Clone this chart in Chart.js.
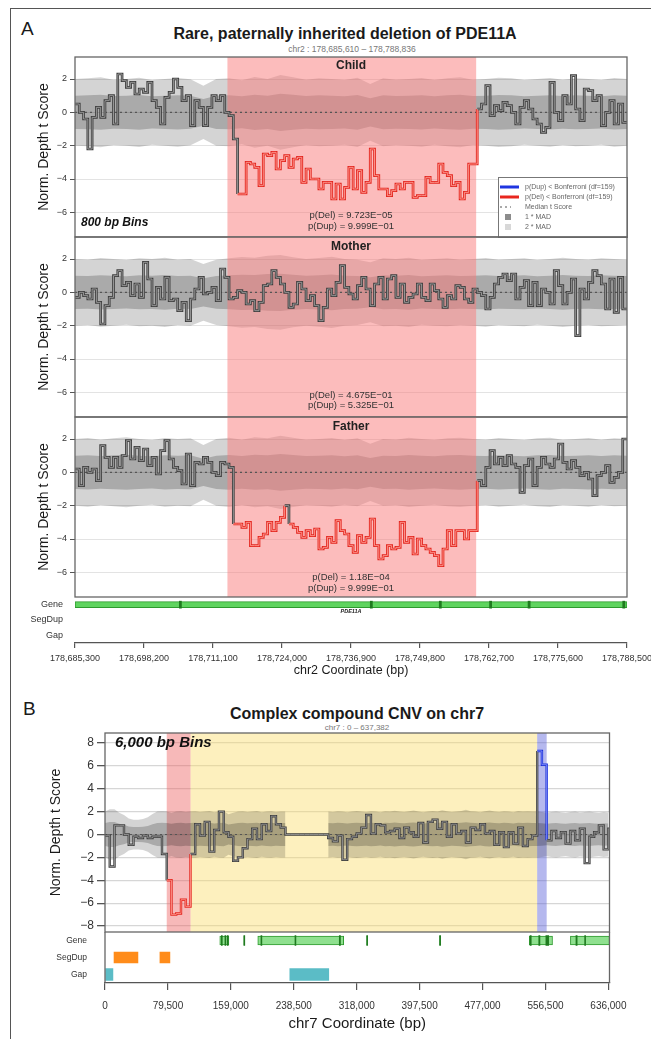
<!DOCTYPE html>
<html>
<head>
<meta charset="utf-8">
<script src="https://cdn.jsdelivr.net/npm/chart.js@4.4.1/dist/chart.umd.min.js"></script>
<style>
  html, body { margin: 0; padding: 0; background: #fff; }
  body { position: relative; width: 651px; height: 1039px; overflow: hidden; font-family: "Liberation Sans", Arial, sans-serif; }
  canvas { position: absolute; left: 0; }
  .frame { position: absolute; left: 10px; top: 8px; right: -5px; bottom: -5px; border-top: 1.5px solid #555; border-left: 1.5px solid #555; }
  .txt { position: absolute; white-space: nowrap; text-align: center; color: #1a1a1a; }
</style>
</head>
<body>
<div class="frame"></div>
<div class="txt" style="left:21px;top:18px;font-size:19px;text-align:left;">A</div>
<div class="txt" style="left:0;width:690px;top:25px;font-size:16px;font-weight:bold;">Rare, paternally inherited deletion of PDE11A</div>
<div class="txt" style="left:0;width:704px;top:44px;font-size:8.5px;color:#777;">chr2 : 178,685,610 – 178,788,836</div>
<div class="txt" style="left:23px;top:698px;font-size:19px;text-align:left;">B</div>
<div class="txt" style="left:0;width:714px;top:705px;font-size:16px;font-weight:bold;">Complex compound CNV on chr7</div>
<div class="txt" style="left:0;width:714px;top:723px;font-size:8px;color:#777;">chr7 : 0 – 637,382</div>

<canvas id="child" width="651" height="208" style="top:43px"></canvas>
<canvas id="mother" width="651" height="208" style="top:223px"></canvas>
<canvas id="father" width="651" height="208" style="top:403px"></canvas>
<canvas id="trackA" width="680" height="97" style="top:583px"></canvas>
<canvas id="mainB" width="651" height="227" style="top:719px"></canvas>
<canvas id="trackB" width="651" height="117" style="top:918px"></canvas>

<script>
// ---------- panel A : chr2, 800 bp bins ----------
const startA = 178685300;
const endA = 178788500;
const binA = 800;
const madStepA = 2400;
const xTicksA = [178685300, 178698200, 178711100, 178724000, 178736900, 178749800, 178762700, 178775600, 178788500];
const yTicksA = [-6, -4, -2, 0, 2];
const delA = [178713800, 178760300];

const childT = [
  0.5, 0.0, -0.4, -2.2, -0.3, 0.3, -0.3, 0.7, 1.0, -0.7, 2.3, 1.9, 1.5, 1.8, 1.1, 1.4, 1.2, 1.8, 0.7, 0.3,
  -0.7, 0.9, 1.2, 2.0, 1.5, 0.7, 1.0, -0.8, 0.7, 0.3, -0.8, 0.3, 1.0, 0.7, 1.0, 0.0,
  -0.2, -1.6, -4.9, -4.9, -3.0, -3.1, -3.3, -4.4, -2.5, -2.6, -2.4, -3.4, -2.9, -2.6, -3.3, -2.8, -2.7, -4.2,
  -3.4, -4.0, -4.0, -4.6, -4.2, -4.2, -5.2, -4.3, -5.2, -4.5, -3.3, -4.6, -3.5, -4.8, -4.2, -2.2, -3.8, -4.6,
  -4.6, -5.0, -4.7, -4.3, -4.6, -4.2, -4.2, -5.1, -5.0, -5.0, -3.9, -4.2, -4.2, -3.1, -3.6, -3.8, -4.4, -4.2,
  -5.2, -4.8, -3.1, -3.1,
  0.2, 0.5, 1.6, -0.2, 0.4, 0.1, 0.6, 0.4, 0.0, -0.7, 0.3, 0.7, 0.2, -0.4, -0.7, -1.2, -0.9, 1.8, 0.0, -0.5,
  1.0, 0.5, 2.2, 0.2, -0.5, 1.4, 1.3, 0.7, 1.0, -0.8, 0.0, 0.7, -0.7, 0.5, -0.6
];
const motherT = [
  -0.3, 0.0, -0.2, -0.4, 0.2, -0.6, -1.9, -0.8, -0.3, 1.0, 1.3, 0.4, 0.6, -0.2, 0.5, -0.3, 1.8, 0.8, -0.8, 0.3,
  -0.4, 0.9, -0.5, -0.4, -1.1, -0.6, -1.7, -0.4, 0.2, 0.9, -0.1, 0.0, 0.3, -0.5, 1.4, 0.9,
  -0.4, -0.3, 0.1, 0.0, -0.7, -0.5, -1.1, -0.6, 0.4, 0.5, 1.3, 0.9, 0.5, 0.0, -0.9, -0.7, 0.6, 0.2, -0.5, -0.2,
  -0.8, -1.7, -0.9, 0.2, -0.2, 0.6, 1.6, 0.3, -0.1, -0.4, 0.4, 0.9, 0.2, -0.8, 0.5, 0.9, -0.4, 0.8, 1.0, -0.3,
  0.5, -0.6, -0.3, -0.1, 0.5, -0.3, -0.5, 0.5, 0.1, -0.4, -0.9, -0.2, -0.4, 0.4, 0.3, -0.4, -0.6, 0.2,
  0.0, -0.2, -1.0, -0.3, 0.5, 0.9, 1.1, 0.7, 1.1, -0.4, 0.3, 0.7, -0.8, 0.6, -0.8, 0.2, 0.0, -0.7, 1.3, 0.4,
  -0.7, 0.0, 0.8, -2.6, 0.2, -0.4, 0.6, 1.3, 1.0, 0.5, -1.0, 0.8, -1.2, 0.9, -1.0
];
const fatherT = [
  0.2, -0.8, 0.3, 0.0, 0.2, -0.5, 1.6, 0.9, 0.3, 0.9, 0.3, 1.0, 1.9, 0.8, 1.5, 0.7, 1.4, 0.4, 0.9, -0.1,
  1.3, 1.9, 0.8, 0.3, 0.1, -0.7, 1.1, -0.8, 0.6, 0.5, 0.9, 0.6, 0.0, -0.2, 0.6, 0.5,
  0.3, -3.1, -3.1, -3.3, -3.0, -4.4, -4.4, -3.9, -3.7, -3.0, -3.5, -3.0, -2.7, -2.0, -3.1, -3.3, -3.6, -3.9,
  -3.5, -3.8, -3.4, -4.6, -4.5, -3.9, -4.2, -2.9, -3.5, -3.7, -4.4, -4.8, -3.8, -4.2, -3.9, -2.8, -4.4, -5.2,
  -5.0, -4.4, -4.6, -4.5, -3.0, -4.2, -3.9, -4.9, -4.0, -4.4, -4.6, -4.8, -5.0, -5.6, -4.6, -3.5, -4.4, -3.5,
  -3.5, -4.0, -3.5, -3.5,
  -0.5, -0.8, 0.3, 1.3, 0.5, 0.9, 0.4, 1.0, 0.5, 0.3, -1.2, 0.4, 0.8, -0.8, 0.3, 0.9, 0.5, 0.3, 0.8, 1.7,
  0.6, 0.2, 0.7, 0.3, -0.2, 0.0, -0.4, -1.4, -0.2, 0.0, 0.4, -0.6, -0.3, 0.0, 2.0
];
// median absolute deviation of the reference, every 2,400 bp
const childMad = [1.0, 1.02, 1.05, 0.98, 1.0, 1.04, 0.97, 1.0, 1.03, 0.99, 0.8, 1.0, 1.02, 0.96, 1.06, 1.0, 1.12, 1.05, 0.98, 1.02, 1.0, 0.97, 1.04, 0.85, 1.02, 0.98, 1.0, 1.03, 0.97, 1.02, 1.05, 0.98, 1.0, 1.04, 1.02, 0.97, 1.0, 1.03, 0.98, 1.02, 1.0, 0.97, 1.03, 1.0];
const motherMad = [1.0, 0.98, 1.03, 1.0, 0.97, 1.02, 1.0, 1.04, 0.98, 1.0, 0.85, 0.98, 1.02, 1.06, 1.04, 1.1, 1.12, 1.05, 1.0, 1.03, 1.07, 1.0, 0.98, 0.9, 1.02, 1.0, 1.04, 0.97, 1.0, 1.02, 0.98, 1.0, 1.03, 0.98, 1.0, 1.02, 0.97, 1.0, 1.04, 1.0, 0.98, 1.02, 1.0, 0.98];
const fatherMad = [1.0, 1.03, 0.98, 1.02, 1.05, 1.0, 0.97, 1.03, 1.0, 1.02, 0.82, 1.0, 1.04, 0.98, 1.05, 1.02, 1.1, 1.04, 0.98, 1.0, 1.03, 0.97, 1.02, 0.86, 1.0, 0.98, 1.04, 1.0, 0.97, 1.02, 1.04, 1.0, 0.98, 1.03, 1.0, 0.97, 1.02, 1.04, 0.98, 1.0, 1.03, 0.98, 1.02, 1.0];
const childP = ['p(Del) = 9.723E\u221205', 'p(Dup) = 9.999E\u221201'];
const motherP = ['p(Del) = 4.675E\u221201', 'p(Dup) = 5.325E\u221201'];
const fatherP = ['p(Del) = 1.18E\u221204', 'p(Dup) = 9.999E\u221201'];
const geneA = [[178685300, 178788500]];
const geneNamesA = ['PDE11A'];
const exonA = [[178704800, 178705200], [178740500, 178740900], [178753400, 178753800], [178762800, 178763200], [178770000, 178770400], [178787700, 178788100]];
const keyLabels = ['p(Dup) < Bonferroni (df=159)', 'p(Del) < Bonferroni (df=159)', 'Median t Score', '1 * MAD', '2 * MAD'];

// ---------- panel B : chr7, 6,000 bp bins ----------
const startB = 0;
const endB = 637382;
const binB = 6000;
const xTicksB = [0, 79500, 159000, 238500, 318000, 397500, 477000, 556500, 636000];
const yTicksB = [-8, -6, -4, -2, 0, 2, 4, 6, 8];
const delB = [78000, 108000];
const cnvB = [108000, 546000];
const dupB = [546000, 558000];
const probandB = [
  -0.1, -2.8, 0.8, 0.8, 0.0, -0.9, -0.2, -0.3, -0.1, -0.3, -0.2, -0.2, -1.7,
  -4.0, -7.0, -6.9, -5.7, -6.3,
  -1.7, 0.9, -0.1, 1.1, -1.5, 0.4, 2.0, 0.2, -0.2, -2.3, -2.0, -1.2, -0.4, 0.5, -0.4, 0.9, 0.3, 1.6, 0.9, 0.6, 0.0,
  0.0, 0.0, 0.0, 0.0, 0.0, 0.0, 0.0, 0.0,
  -0.3, -0.6, -0.1, -2.2, -0.4, -0.2, 0.1, 0.6, 1.7, 0.1, 0.9, 0.8, 0.2, 0.3, 0.5, -0.3, 0.6, 0.2, -0.2, 1.0,
  -0.7, 1.1, 1.3, 0.5, 1.1, -0.2, 0.9, 0.1, 0.3, -0.7, 0.6, 0.4, 0.9, 0.1, 0.3, -0.9, 0.2, -1.1, 0.2, -0.8,
  0.6, -1.0, -0.4, -0.1,
  7.3, 6.1,
  -0.5, 0.3, -0.3, 0.2, -0.8, 0.3, -0.5, 0.5, -2.5, -0.2, 0.2, 0.8, -1.3, 0.5
];
const madB = [
  1.0, 1.1, 1.1, 0.95, 0.85, 0.7, 0.65, 0.65, 0.68, 0.75, 0.9, 1.0, 1.02,
  1.0, 0.95, 1.0, 1.02, 0.98,
  1.0, 1.02, 0.98, 1.0, 1.03, 0.97, 1.0, 1.02, 0.88, 0.95, 1.0, 1.02, 0.98, 1.0, 1.03, 0.97, 1.0, 1.02, 0.98, 1.0, 1.0,
  null, null, null, null, null, null, null, null,
  1.0, 0.98, 1.02, 1.0, 0.97, 1.0, 1.03, 1.0, 0.98, 1.02, 1.0, 0.97, 1.02, 1.0, 1.04, 1.0, 0.98, 1.02, 1.05, 1.0,
  0.97, 1.0, 1.03, 1.0, 1.06, 1.02, 0.98, 1.0, 1.03, 1.08, 1.02, 1.0, 0.97, 1.02, 1.05, 1.0, 0.98, 1.02, 1.0, 0.97,
  1.03, 1.0, 1.02, 1.0,
  1.0, 0.98,
  0.95, 0.98, 1.0, 0.97, 0.95, 0.98, 1.0, 0.96, 0.98, 1.0, 0.97, 0.95, 0.98, 0.96
];
const geneB = [[145000, 156500], [175400, 176600], [193000, 301600], [330600, 331800], [422700, 424000], [536000, 565400], [588000, 637382]];
const exonB = [[147000, 148200], [151500, 152700], [154500, 155700], [175400, 176600], [197000, 198200], [240000, 241200], [296000, 297500], [330600, 331800], [422700, 424000], [537000, 538500], [548000, 549500], [557000, 560500], [595000, 596500], [606000, 607200]];
const segdupB = [[11400, 41600], [69400, 82000]];
const gapB = [[0, 10000], [233500, 282700]];

// ---------- helpers ----------
Chart.defaults.font.family = '"Liberation Sans", Arial, sans-serif';
Chart.defaults.color = '#333';
const FONT = '"Liberation Sans", Arial, sans-serif';
const PAD = 14;

function commas(v) { return String(Math.round(v)).replace(/\B(?=(\d{3})+(?!\d))/g, ','); }

function stepPoints(vals, start, bin, end) {
  const pts = vals.map((v, i) => ({ x: start + i * bin, y: v }));
  pts.push({ x: end, y: vals[vals.length - 1] });
  return pts;
}
function bandPoints(mad, start, step, k) {
  return mad.map((m, i) => ({ x: start + i * step, y: m === null ? null : k * m }));
}
function callColor(calls, key) {
  return ctx => {
    const x = ctx.p0.parsed.x, y = ctx.p0.parsed.y;
    for (const c of calls) {
      if (x >= c.range[0] && x < c.range[1] && Math.abs(y) > 2) return c[key];
    }
    return undefined;
  };
}

const regionPlugin = {
  id: 'regions',
  paint(chart, items) {
    const { ctx, chartArea: a } = chart;
    const xs = chart.scales.x;
    ctx.save();
    ctx.beginPath(); ctx.rect(a.left, a.top, a.width, a.height); ctx.clip();
    items.forEach(r => {
      const x0 = xs.getPixelForValue(r.range[0]), x1 = xs.getPixelForValue(r.range[1]);
      ctx.fillStyle = r.color;
      ctx.fillRect(x0, a.top, x1 - x0, a.height);
    });
    ctx.restore();
  },
  beforeDatasetsDraw(chart, args, opts) {
    if (opts.items && !opts.over) this.paint(chart, opts.items);
  },
  beforeDatasetDraw(chart, args, opts) {
    if (opts.items && opts.over && args.index === 2) this.paint(chart, opts.items);
  }
};

const notePlugin = {
  id: 'notes',
  afterDatasetsDraw(chart, args, opts) {
    if (!opts.items) return;
    const { ctx, chartArea: a } = chart;
    ctx.save();
    opts.items.forEach(n => {
      ctx.font = n.font;
      ctx.fillStyle = n.color || '#222';
      ctx.textAlign = n.align || 'center';
      ctx.textBaseline = 'middle';
      const x = n.x === undefined ? (a.left + a.right) / 2 : a.left + n.x;
      ctx.fillText(n.text, x, a.top + n.y);
    });
    ctx.restore();
  }
};

const keyPlugin = {
  id: 'key',
  afterDatasetsDraw(chart, args, opts) {
    if (!opts.labels) return;
    const { ctx, chartArea: a } = chart;
    const w = 129, h = 60, x0 = a.right - w, y0 = a.bottom - h;
    ctx.save();
    ctx.fillStyle = '#fff';
    ctx.fillRect(x0, y0, w, h);
    ctx.strokeStyle = '#777'; ctx.lineWidth = 1;
    ctx.strokeRect(x0 + 0.5, y0 + 0.5, w, h);
    ctx.font = '7px ' + FONT; ctx.textBaseline = 'middle'; ctx.textAlign = 'left';
    opts.labels.forEach((lab, i) => {
      const y = y0 + 10 + i * 10;
      const sw = opts.swatches[i];
      if (sw.type === 'line') {
        ctx.strokeStyle = sw.color; ctx.lineWidth = sw.width; ctx.setLineDash(sw.dash || []);
        ctx.beginPath(); ctx.moveTo(x0 + 2, y); ctx.lineTo(x0 + (sw.dash ? 13 : 21), y); ctx.stroke();
        ctx.setLineDash([]);
      } else {
        ctx.fillStyle = sw.color; ctx.fillRect(x0 + 7, y - 3, 6, 6);
      }
      ctx.fillStyle = '#666';
      ctx.fillText(lab, x0 + 27, y);
    });
    ctx.restore();
  }
};

const boxPlugin = {
  id: 'box',
  afterDraw(chart, args, opts) {
    if (!opts.mode) return;
    const { ctx, chartArea: a } = chart;
    ctx.save();
    ctx.strokeStyle = '#666'; ctx.lineWidth = 1.3;
    if (opts.mode === 'rect') {
      ctx.strokeRect(a.left, a.top, a.width, a.height);
    } else {
      ctx.beginPath();
      ctx.moveTo(a.left, a.top); ctx.lineTo(a.left, a.bottom);
      ctx.moveTo(a.right, a.top); ctx.lineTo(a.right, a.bottom);
      ctx.stroke();
    }
    ctx.restore();
  }
};

const nameTag = {
  id: 'nameTag',
  afterDatasetsDraw(chart, args, opts) {
    if (!opts.names) return;
    const { ctx } = chart;
    const xs = chart.scales.x, ys = chart.scales.y;
    ctx.save();
    ctx.font = opts.font; ctx.fillStyle = '#222'; ctx.textAlign = 'center'; ctx.textBaseline = 'middle';
    opts.names.forEach((n, i) => {
      const s = opts.spans[i];
      ctx.fillText(n, xs.getPixelForValue((s[0] + s[1]) / 2), ys.getPixelForValue(0) + opts.dy);
    });
    ctx.restore();
  }
};

function panel(id, cfg) {
  const pts = stepPoints(cfg.values, cfg.start, cfg.bin, cfg.end);
  const calls = cfg.calls;
  const datasets = [
    { data: pts, stepped: true, borderColor: '#9b9b9b', borderWidth: cfg.lw * 0.35,
      segment: { borderColor: callColor(calls, 'inner') }, order: 0 },
    { data: pts, stepped: true, borderColor: '#3f3f3f', borderWidth: cfg.lw,
      segment: { borderColor: callColor(calls, 'outer') }, order: 1 },
    { data: [{ x: cfg.start, y: 0 }, { x: cfg.end, y: 0 }], borderColor: '#555', borderWidth: 1.1, borderDash: [2, 3], order: 2 },
    { data: bandPoints(cfg.mad, cfg.start, cfg.madStep, 1), borderColor: 'transparent', borderWidth: 1,
      backgroundColor: 'rgba(0,0,0,0.2)', fill: 4, order: 3 },
    { data: bandPoints(cfg.mad, cfg.start, cfg.madStep, -1), borderColor: 'transparent', borderWidth: 1, fill: false, order: 3 },
    { data: bandPoints(cfg.mad, cfg.start, cfg.madStep, 2), borderColor: 'transparent', borderWidth: 1,
      backgroundColor: 'rgba(0,0,0,0.17)', fill: 6, order: 4 },
    { data: bandPoints(cfg.mad, cfg.start, cfg.madStep, -2), borderColor: 'transparent', borderWidth: 1, fill: false, order: 4 }
  ];
  return new Chart(document.getElementById(id), {
    type: 'line',
    data: { datasets },
    plugins: [regionPlugin, notePlugin, keyPlugin, boxPlugin],
    options: {
      responsive: false, animation: false, devicePixelRatio: 1, events: [],
      layout: { padding: { top: PAD, bottom: PAD, left: 0, right: cfg.padRight } },
      elements: { point: { radius: 0 }, line: { tension: 0 } },
      plugins: {
        legend: { display: false }, tooltip: { enabled: false },
        regions: { items: cfg.regions, over: cfg.regionsOver },
        notes: { items: cfg.notes },
        key: cfg.key || {},
        box: { mode: 'rect' }
      },
      scales: {
        x: { type: 'linear', display: false, min: cfg.start, max: cfg.end },
        y: {
          type: 'linear', min: cfg.ymin, max: cfg.ymax,
          afterBuildTicks: s => { s.ticks = cfg.yTicks.map(v => ({ value: v })); },
          afterFit: s => { s.width = cfg.axisW; },
          ticks: { font: { size: cfg.tickSize }, color: '#333', padding: 3,
                   callback: v => v < 0 ? '\u2212' + (-v) : String(v) },
          grid: { color: cfg.gridColor, lineWidth: cfg.gridW, tickColor: '#555', tickLength: cfg.tickLen },
          border: { display: false },
          title: { display: true, text: 'Norm. Depth t Score', font: { size: 14 }, color: '#1a1a1a',
                   padding: { top: cfg.titlePad, bottom: 0 } }
        }
      }
    }
  });
}

function track(id, cfg) {
  const rows = ['Gene', 'SegDup', 'Gap'];
  const bars = (list, row) => list.map(r => ({ x: r, y: row }));
  return new Chart(document.getElementById(id), {
    type: 'bar',
    data: {
      labels: rows,
      datasets: [
        { data: bars(cfg.exons, 'Gene'), backgroundColor: '#1f7a1f', barThickness: cfg.geneH + 1, grouped: false, order: 0 },
        { data: bars(cfg.genes, 'Gene'), backgroundColor: cfg.geneFill, borderColor: '#2e9a2e', borderWidth: 1,
          borderSkipped: false, barThickness: cfg.geneH, grouped: false, order: 1 },
        { data: bars(cfg.segdups, 'SegDup'), backgroundColor: '#ff8c1a', barThickness: cfg.segH, grouped: false, order: 2 },
        { data: bars(cfg.gaps, 'Gap'), backgroundColor: '#5bbcc6', barThickness: cfg.gapH, grouped: false, order: 3 }
      ]
    },
    plugins: [nameTag, boxPlugin],
    options: {
      indexAxis: 'y', responsive: false, animation: false, devicePixelRatio: 1, events: [],
      layout: { padding: { top: PAD, bottom: 0, left: 0, right: cfg.padRight } },
      plugins: {
        legend: { display: false }, tooltip: { enabled: false },
        nameTag: cfg.names || {},
        box: { mode: cfg.sides ? 'sides' : null }
      },
      scales: {
        x: {
          type: 'linear', position: 'bottom', min: cfg.start, max: cfg.end,
          afterBuildTicks: s => { s.ticks = cfg.xTicks.map(v => ({ value: v })); },
          afterFit: s => { s.height = cfg.axisH; },
          ticks: { font: { size: cfg.tickSize }, color: '#333', padding: cfg.tickPad, autoSkip: false,
                   maxRotation: 0, minRotation: 0, callback: v => commas(v) },
          grid: { drawOnChartArea: false, tickLength: cfg.tickLen, tickColor: '#555', lineWidth: 1.2 },
          border: { display: true, color: '#555', width: 1.2 },
          title: { display: true, text: cfg.title, font: { size: cfg.titleSize }, color: '#1a1a1a',
                   padding: { top: 0, bottom: 2 } }
        },
        y: {
          type: 'category', offset: true,
          afterFit: s => { s.width = cfg.axisW; },
          ticks: { font: { size: cfg.rowSize }, color: '#333', padding: 0 },
          grid: { drawOnChartArea: false, tickLength: cfg.labelGap, tickColor: 'transparent' },
          border: { display: false }
        }
      }
    }
  });
}

// ---------- panel A ----------
const callsA = [{ range: delA, outer: '#e3261f', inner: '#ff9a90' }];
const regionsA = [{ range: delA, color: 'rgba(249,121,121,0.5)' }];
const noteFontB = 'bold 12px ' + FONT;
const pFont = '9.5px ' + FONT;
const baseA = {
  start: startA, end: endA, bin: binA, madStep: madStepA, ymin: -7.48, ymax: 3.32, yTicks: yTicksA,
  axisW: 75, padRight: 24, tickSize: 9, tickLen: 5, gridColor: '#e3e3e3', gridW: 1, titlePad: 36, lw: 2.7,
  calls: callsA, regions: regionsA, regionsOver: true
};

panel('child', Object.assign({}, baseA, {
  values: childT, mad: childMad,
  notes: [
    { text: 'Child', y: 9, font: noteFontB },
    { text: childP[0], y: 158, font: pFont, color: '#333' },
    { text: childP[1], y: 169, font: pFont, color: '#333' },
    { text: '800 bp Bins', x: 6, y: 166, align: 'left', font: 'italic bold 12px ' + FONT, color: '#111' }
  ],
  key: {
    labels: keyLabels,
    swatches: [
      { type: 'line', color: '#1f35e0', width: 3 },
      { type: 'line', color: '#e8261e', width: 3 },
      { type: 'line', color: '#555', width: 1, dash: [2, 3] },
      { type: 'box', color: '#8c8c8c' },
      { type: 'box', color: '#d8d8d8' }
    ]
  }
}));
panel('mother', Object.assign({}, baseA, {
  values: motherT, mad: motherMad,
  notes: [
    { text: 'Mother', y: 10, font: noteFontB },
    { text: motherP[0], y: 158, font: pFont, color: '#333' },
    { text: motherP[1], y: 168, font: pFont, color: '#333' }
  ]
}));
panel('father', Object.assign({}, baseA, {
  values: fatherT, mad: fatherMad,
  notes: [
    { text: 'Father', y: 10, font: noteFontB },
    { text: fatherP[0], y: 160, font: pFont, color: '#333' },
    { text: fatherP[1], y: 171, font: pFont, color: '#333' }
  ]
}));
track('trackA', {
  start: startA, end: endA, xTicks: xTicksA, axisW: 75, padRight: 53, axisH: 37,
  tickSize: 9, tickPad: 5, tickLen: 5, labelGap: 12, rowSize: 9, title: 'chr2 Coordinate (bp)', titleSize: 12.5,
  genes: geneA, exons: exonA, segdups: [], gaps: [], geneFill: '#5fd45f', geneH: 6, segH: 10, gapH: 10,
  names: { names: geneNamesA, spans: geneA, dy: 7, font: 'italic bold 5.5px ' + FONT }
});

// ---------- panel B ----------
panel('mainB', {
  values: probandB, mad: madB, start: startB, end: endB, bin: binB, madStep: binB,
  ymin: -8.52, ymax: 8.87, yTicks: yTicksB,
  axisW: 105, padRight: 41.5, tickSize: 12, tickLen: 8, gridColor: '#d6d6d6', gridW: 1.3, titlePad: 48, lw: 2.4,
  calls: [
    { range: delB, outer: '#e3261f', inner: '#ff9a90' },
    { range: dupB, outer: '#1a2fd8', inner: '#8a96ff' }
  ],
  regions: [
    { range: cnvB, color: 'rgba(251,222,111,0.45)' },
    { range: delB, color: 'rgba(238,100,100,0.45)' },
    { range: dupB, color: 'rgba(91,98,218,0.45)' }
  ],
  regionsOver: false,
  notes: [
    { text: '6,000 bp Bins', x: 10, y: 10, align: 'left', font: 'italic bold 15px ' + FONT, color: '#111' }
  ]
});
track('trackB', {
  start: startB, end: endB, xTicks: xTicksB, axisW: 105, padRight: 41.5, axisH: 52,
  tickSize: 10, tickPad: 10, tickLen: 7, labelGap: 18, rowSize: 8.5, title: 'chr7 Coordinate (bp)', titleSize: 15,
  genes: geneB, exons: exonB, segdups: segdupB, gaps: gapB, geneFill: '#8fe08f', geneH: 9, segH: 11, gapH: 12,
  sides: true
});
</script>
</body>
</html>
